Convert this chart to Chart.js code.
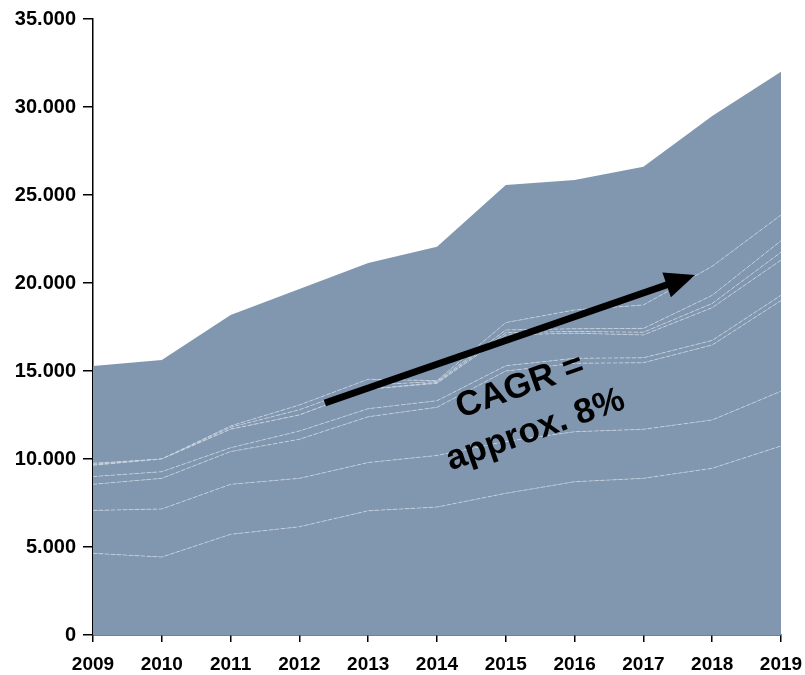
<!DOCTYPE html>
<html>
<head>
    <meta charset="utf-8" />
    <title>CAGR stacked area</title>
    <script src="https://cdn.jsdelivr.net/npm/chart.js"></script>
    <style>
        html, body { margin: 0; padding: 0; background: #fff; }
        #wrap { width: 805px; height: 675px; }
    </style>
</head>
<body>
    <div id="wrap"><canvas id="chart" width="805" height="675"></canvas></div>
    <script>
        // years on the x axis
        var years = ['2009', '2010', '2011', '2012', '2013', '2014', '2015', '2016', '2017', '2018', '2019'];

        // stacked layers, bottom to top
        var s1 = [4640, 4430, 5720, 6150, 7060, 7270, 8050, 8710, 8900, 9470, 10740];
        var s2 = [2440, 2730, 2840, 2750, 2740, 2930, 2950, 2840, 2790, 2750, 3110];
        var s3 = [1480, 1740, 1860, 2220, 2600, 2740, 4000, 3890, 3780, 4260, 5150];
        var s4 = [440, 380, 220, 470, 460, 370, 300, 280, 280, 260, 300];
        var s5 = [640, 720, 1050, 910, 1100, 990, 1750, 1430, 1300, 1860, 2000];
        var s6 = [0, 0, 0, 0, 0, 50, 130, 100, 150, 240, 450];
        var s7 = [60, 0, 110, 300, 240, 50, 150, 150, 220, 460, 650];
        var s8 = [60, 0, 80, 270, 330, 50, 420, 1070, 1330, 1650, 1460];
        var s9 = [5520, 5630, 6300, 6590, 6610, 7610, 7820, 7380, 7850, 8540, 8140];

        var layers = [s1, s2, s3, s4, s5, s6, s7, s8, s9];

        // y axis
        var yMin = 0, yMax = 35000, yStep = 5000;

        // annotation: arrow from/to (category index, value) and label
        var arrowFrom = [3.37, 13180];
        var arrowTo = [8.75, 20450];
        var noteAt = [6.32, 12870];
        var noteLines = ['CAGR =', 'approx. 8%'];

        var fillColor = '#8197b0';
        var FONT = '"Liberation Sans", Arial, sans-serif';

        var datasets = layers.map(function (vals, i) {
            var top = i === layers.length - 1;
            return {
                label: 'Layer ' + (i + 1),
                data: vals,
                backgroundColor: fillColor,
                borderColor: top ? fillColor : 'rgba(214,222,232,0.65)',
                borderWidth: top ? 0 : 1,
                borderDash: [4, 2],
                fill: i === 0 ? 'origin' : '-1',
                pointRadius: 0,
                tension: 0
            };
        });

        function dots(v) {
            return String(v).replace(/\B(?=(\d{3})+(?!\d))/g, '.');
        }

        var annotate = {
            id: 'annotate',
            afterDatasetsDraw: function (chart) {
                var ctx = chart.ctx, xs = chart.scales.x, ys = chart.scales.y;
                var x0 = xs.getPixelForValue(arrowFrom[0]), y0 = ys.getPixelForValue(arrowFrom[1]);
                var x1 = xs.getPixelForValue(arrowTo[0]), y1 = ys.getPixelForValue(arrowTo[1]);
                var ang = Math.atan2(y1 - y0, x1 - x0);
                var headLen = 30, headHalf = 13;
                var bx = x1 - headLen * Math.cos(ang), by = y1 - headLen * Math.sin(ang);

                ctx.save();
                ctx.strokeStyle = '#000';
                ctx.fillStyle = '#000';
                ctx.lineWidth = 7;
                ctx.beginPath();
                ctx.moveTo(x0, y0);
                ctx.lineTo(bx + 2 * Math.cos(ang), by + 2 * Math.sin(ang));
                ctx.stroke();
                ctx.beginPath();
                ctx.moveTo(x1, y1);
                ctx.lineTo(bx - headHalf * Math.sin(ang), by + headHalf * Math.cos(ang));
                ctx.lineTo(bx + headHalf * Math.sin(ang), by - headHalf * Math.cos(ang));
                ctx.closePath();
                ctx.fill();

                // rotated note
                var cx = xs.getPixelForValue(noteAt[0]), cy = ys.getPixelForValue(noteAt[1]);
                ctx.translate(cx, cy);
                ctx.rotate(-19.5 * Math.PI / 180);
                ctx.font = 'bold 35px ' + FONT;
                ctx.textAlign = 'center';
                ctx.textBaseline = 'middle';
                ctx.fillText(noteLines[0], 0, -23);
                ctx.fillText(noteLines[1], 0, 23);
                ctx.restore();
            }
        };

        new Chart(document.getElementById('chart'), {
            type: 'line',
            data: { labels: years, datasets: datasets },
            options: {
                responsive: false,
                animation: false,
                layout: { padding: { top: 19, right: 24, bottom: 0, left: 0 } },
                plugins: {
                    legend: { display: false },
                    tooltip: { enabled: false }
                },
                scales: {
                    x: {
                        offset: false,
                        grid: { display: true, drawOnChartArea: false, drawTicks: true, tickLength: 7, color: '#000', lineWidth: 1.5 },
                        border: { display: true, color: '#000', width: 1.5 },
                        ticks: { color: '#000', font: { family: FONT, size: 19, weight: 'bold' }, padding: 11, maxRotation: 0 },
                        afterFit: function (s) { s.height = 40; s.paddingLeft = 0; s.paddingRight = 0; }
                    },
                    y: {
                        stacked: true,
                        min: yMin,
                        max: yMax,
                        grid: { display: true, drawOnChartArea: false, drawTicks: true, tickLength: 10, color: '#000', lineWidth: 1.5 },
                        border: { display: true, color: '#000', width: 1.5 },
                        ticks: {
                            stepSize: yStep,
                            color: '#000',
                            padding: 7,
                            font: { family: FONT, size: 20, weight: 'bold' },
                            callback: function (v) { return dots(v); }
                        },
                        afterFit: function (s) { s.width = 93; }
                    }
                }
            },
            plugins: [annotate]
        });
    </script>
</body>
</html>
